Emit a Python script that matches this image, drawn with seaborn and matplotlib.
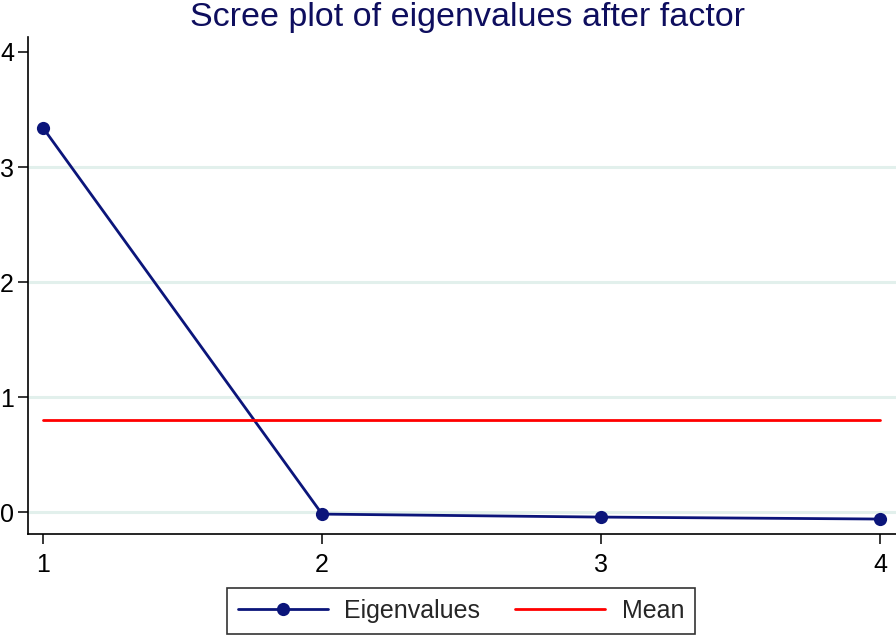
import matplotlib
matplotlib.use("Agg")
import matplotlib.pyplot as plt
import seaborn as sns
import pandas as pd

factors = [1, 2, 3, 4]
eigenvalues = [3.34, -0.017, -0.043, -0.06]
mean_value = 0.805
title = "Scree plot of eigenvalues after factor"

sns.set_theme(style="white")
plt.rcParams['font.family'] = ['Liberation Sans', 'DejaVu Sans']

navy = '#0b157a'
df = pd.DataFrame({'Factor': factors, 'Eigenvalue': eigenvalues})
dm = pd.DataFrame({'Factor': factors, 'Mean': [mean_value] * len(factors)})

fig = plt.figure(figsize=(8.96, 6.35), dpi=100)
ax = fig.add_axes([28/896, 1 - 534/635, 1 - 28/896, (534 - 37)/635])

for g in [0, 1, 2, 3]:
    ax.axhline(g, color='#e2f0ec', lw=2.2, zorder=0)

sns.lineplot(data=df, x='Factor', y='Eigenvalue', ax=ax, color=navy, lw=2,
             marker='o', markersize=9.5, markeredgewidth=0, label='Eigenvalues')
sns.lineplot(data=dm, x='Factor', y='Mean', ax=ax, color='#ff0000', lw=2,
             label='Mean')

ax.set_xlim(0.946, 4.057)
ax.set_ylim(-0.19, 4.13)
ax.set_xticks(factors)
ax.set_yticks([0, 1, 2, 3, 4])
ax.set_xlabel('')
ax.set_ylabel('')
for s in ['top', 'right']:
    ax.spines[s].set_visible(False)
for s in ['left', 'bottom']:
    ax.spines[s].set_color('black')
    ax.spines[s].set_linewidth(1.2)
ax.tick_params(axis='both', direction='out', length=7, width=1.1, color='black',
               labelsize=18, labelcolor='black', left=True, bottom=True)
ax.tick_params(axis='x', pad=7)
ax.tick_params(axis='y', pad=3)

fig.text(467/896, 1 - 26/635, title, ha='center', va='baseline', fontsize=24.5, color='#0e0e5e')

leg = ax.legend(loc='center', bbox_to_anchor=(461/896, 1 - 611/635), bbox_transform=fig.transFigure,
                ncol=2, fontsize=18, frameon=True, fancybox=False, edgecolor='black',
                handlelength=3.6, handletextpad=0.65, columnspacing=1.4, borderpad=0.45)
leg.get_frame().set_linewidth(1.2)

fig.savefig('out.png', dpi=100)
